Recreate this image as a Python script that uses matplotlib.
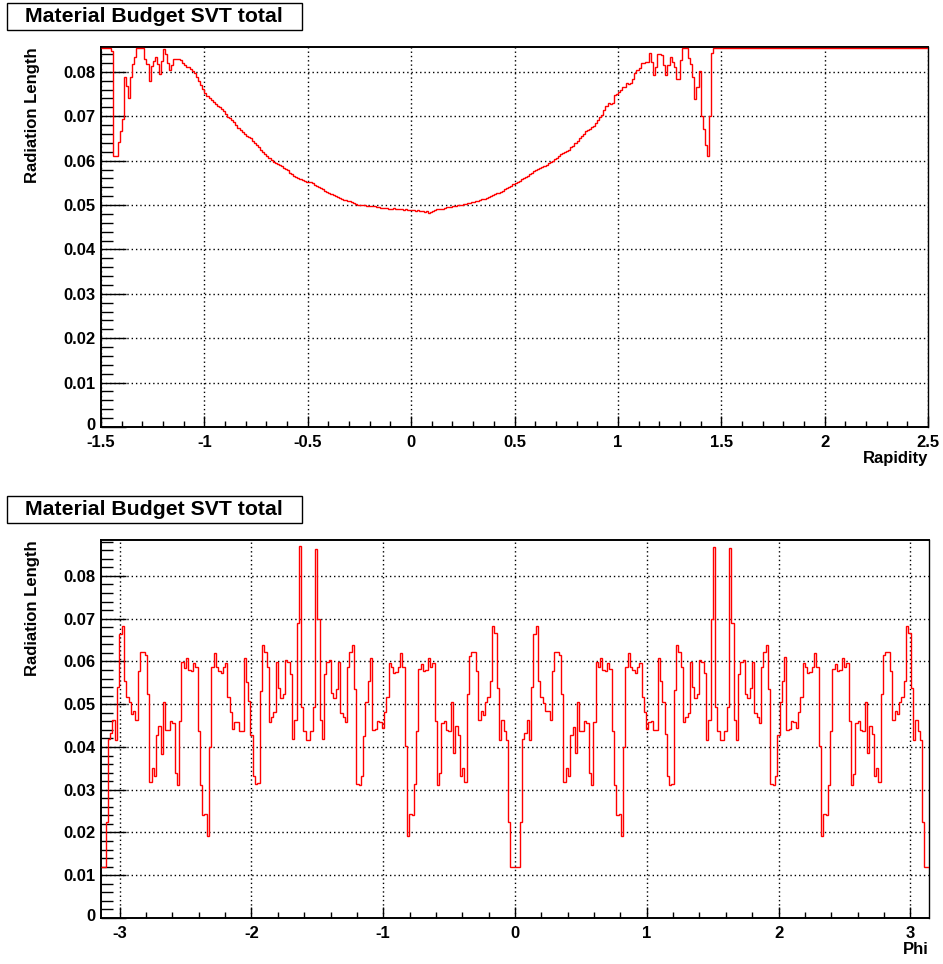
import numpy as np
import matplotlib
matplotlib.use("Agg")
import matplotlib.pyplot as plt
from matplotlib.patches import Rectangle
from matplotlib.transforms import ScaledTranslation
from matplotlib.ticker import FixedLocator, MultipleLocator, FixedFormatter, NullFormatter

# ---------------- data ----------------
OFF = 0.095  # bins above the frame (drawn at the frame top)

rap_range = (-1.5, 2.5)
rad_rap_1 = [OFF, OFF, OFF, OFF, OFF, 0.0847, 0.0611, 0.0611, 0.0641, 0.0667,
             0.0694, 0.0788, 0.0769, 0.0742, 0.0788, 0.0818, 0.0833, OFF, OFF, OFF,
             OFF, 0.0830, 0.0818, 0.0779, 0.0814, 0.0825, 0.0833, 0.0818, 0.0795, 0.0825,
             0.0851, 0.0840, 0.0820, 0.0804, 0.0815, 0.0830, 0.0830, 0.0830, 0.0826, 0.0820,
             0.0815, 0.0812, 0.0810, 0.0806, 0.0801, 0.0797, 0.0788, 0.0780, 0.0771, 0.0762]
rad_rap_2 = [0.0752, 0.0746, 0.0740, 0.0737, 0.0733, 0.0728, 0.0724, 0.0720, 0.0716, 0.0712,
             0.0705, 0.0699, 0.0695, 0.0691, 0.0686, 0.0680, 0.0674, 0.0670, 0.0664, 0.0660,
             0.0655, 0.0653, 0.0650, 0.0645, 0.0640, 0.0636, 0.0630, 0.0625, 0.0620, 0.0616,
             0.0610, 0.0606, 0.0602, 0.0598, 0.0595, 0.0593, 0.0590, 0.0587, 0.0584, 0.0581,
             0.0578, 0.0573, 0.0569, 0.0566, 0.0563, 0.0561, 0.0558, 0.0557, 0.0555, 0.0553,
             0.0552, 0.0551, 0.0549, 0.0546, 0.0544, 0.0541, 0.0538, 0.0535, 0.0532, 0.0530,
             0.0527, 0.0524, 0.0522, 0.0521, 0.0519, 0.0516, 0.0514, 0.0512, 0.0511, 0.0510,
             0.0509, 0.0507, 0.0505, 0.0503, 0.0501, 0.0500, 0.0499, 0.0499, 0.0498, 0.0497,
             0.0497, 0.0498, 0.0497, 0.0496, 0.0495, 0.0494, 0.0493, 0.0494, 0.0493, 0.0492,
             0.0492, 0.0493, 0.0492, 0.0491, 0.0490, 0.0491, 0.0489, 0.0490, 0.0489, 0.0488]
rad_rap_3 = [0.0488, 0.0489, 0.0487, 0.0488, 0.0486, 0.0487, 0.0485, 0.0486, 0.0482, 0.0484,
             0.0487, 0.0488, 0.0490, 0.0490, 0.0492, 0.0492, 0.0494, 0.0495, 0.0496, 0.0496,
             0.0497, 0.0498, 0.0499, 0.0500, 0.0501, 0.0502, 0.0503, 0.0504, 0.0505, 0.0506,
             0.0507, 0.0508, 0.0509, 0.0511, 0.0513, 0.0514, 0.0516, 0.0518, 0.0520, 0.0522,
             0.0524, 0.0526, 0.0528, 0.0530, 0.0532, 0.0535, 0.0538, 0.0541, 0.0544, 0.0547,
             0.0550, 0.0552, 0.0555, 0.0558, 0.0561, 0.0563, 0.0565, 0.0569, 0.0572, 0.0576,
             0.0580, 0.0582, 0.0584, 0.0586, 0.0588, 0.0591, 0.0594, 0.0596, 0.0599, 0.0603,
             0.0607, 0.0610, 0.0614, 0.0617, 0.0620, 0.0622, 0.0625, 0.0630, 0.0634, 0.0639,
             0.0644, 0.0650, 0.0655, 0.0661, 0.0666, 0.0669, 0.0672, 0.0675, 0.0678, 0.0685,
             0.0692, 0.0698]
rad_rap_4 = [0.0703, 0.0713, 0.0722, 0.0729, 0.0728, 0.0729, 0.0748, 0.0751, 0.0755, 0.0760,
             0.0766, 0.0766, 0.0774, 0.0773, 0.0775, 0.0783, 0.0797, 0.0805, 0.0808, 0.0821,
             0.0821, 0.0823, 0.0823, 0.0843, 0.0823, 0.0793, 0.0812, 0.0841, 0.0841, 0.0839,
             0.0816, 0.0793, 0.0816, 0.0833, 0.0823, 0.0812, 0.0783, 0.0785, 0.0827, OFF,
             OFF, OFF, 0.0831, 0.0818, 0.0789, 0.0738, 0.0767, 0.0803, 0.0701, 0.0671,
             0.0636, 0.0611, 0.0701, 0.0842]
rad_rap_5 = [OFF] * 104

phi_range = (-np.pi, np.pi)
rad_phi_1 = [0.0120, 0.0120, 0.0224, 0.0419, 0.0433, 0.0463, 0.0417, 0.0541, 0.0664, 0.0683,
             0.0555, 0.0516, 0.0504, 0.0477, 0.0483, 0.0463, 0.0578, 0.0621, 0.0621, 0.0615,
             0.0525, 0.0318, 0.0350, 0.0332, 0.0428, 0.0448, 0.0384, 0.0504, 0.0440, 0.0440,
             0.0460, 0.0455, 0.0339, 0.0310, 0.0461, 0.0598, 0.0584, 0.0609, 0.0581, 0.0578,
             0.0596, 0.0588, 0.0438, 0.0312, 0.0241, 0.0244, 0.0191, 0.0401, 0.0586, 0.0619,
             0.0586, 0.0578, 0.0572, 0.0586, 0.0596, 0.0518, 0.0481, 0.0442, 0.0458, 0.0459,
             0.0438, 0.0437, 0.0609, 0.0553, 0.0507, 0.0429, 0.0333, 0.0314, 0.0316, 0.0530,
             0.0638, 0.0623, 0.0588, 0.0458, 0.0469, 0.0481, 0.0598, 0.0538, 0.0514, 0.0524,
             0.0604, 0.0599, 0.0570, 0.0419, 0.0463, 0.0689, 0.0870, 0.0493, 0.0438, 0.0417]
rad_phi_2 = [0.0417, 0.0438, 0.0493, 0.0862, 0.0699, 0.0463, 0.0419, 0.0570, 0.0598, 0.0603,
             0.0526, 0.0514, 0.0535, 0.0598, 0.0479, 0.0469, 0.0458, 0.0588, 0.0623, 0.0638,
             0.0535, 0.0314, 0.0312, 0.0332, 0.0426, 0.0506, 0.0555, 0.0609, 0.0440, 0.0442,
             0.0460, 0.0458, 0.0444, 0.0481, 0.0518, 0.0596, 0.0586, 0.0573, 0.0576, 0.0586,
             0.0619, 0.0588, 0.0403, 0.0191, 0.0244, 0.0241, 0.0314, 0.0438, 0.0582, 0.0594,
             0.0578, 0.0581, 0.0608, 0.0586, 0.0596, 0.0460, 0.0310, 0.0339, 0.0455, 0.0460,
             0.0440, 0.0438, 0.0506, 0.0386, 0.0448, 0.0428, 0.0333, 0.0350, 0.0318, 0.0525,
             0.0613, 0.0621, 0.0623, 0.0578, 0.0464, 0.0483, 0.0475, 0.0504, 0.0516, 0.0555,
             0.0683, 0.0666, 0.0539, 0.0417, 0.0463, 0.0438, 0.0417, 0.0224, 0.0120, 0.0120]
rad_phi_3 = [0.0120, 0.0120, 0.0224, 0.0419, 0.0433, 0.0463, 0.0417, 0.0541, 0.0665, 0.0683,
             0.0555, 0.0518, 0.0503, 0.0483, 0.0485, 0.0463, 0.0578, 0.0623, 0.0623, 0.0615,
             0.0525, 0.0318, 0.0350, 0.0332, 0.0428, 0.0446, 0.0385, 0.0506, 0.0438, 0.0438,
             0.0460, 0.0455, 0.0339, 0.0310, 0.0459, 0.0598, 0.0586, 0.0609, 0.0580, 0.0578,
             0.0596, 0.0582, 0.0438, 0.0312, 0.0241, 0.0244, 0.0191, 0.0401, 0.0588, 0.0619,
             0.0588, 0.0581, 0.0573, 0.0588, 0.0596, 0.0518, 0.0481, 0.0442, 0.0458, 0.0460,
             0.0440, 0.0440, 0.0609, 0.0555, 0.0506, 0.0430, 0.0332, 0.0312, 0.0314, 0.0534,
             0.0638, 0.0623, 0.0588, 0.0458, 0.0469, 0.0479, 0.0599, 0.0540, 0.0514, 0.0525,
             0.0604, 0.0599, 0.0572, 0.0417, 0.0463, 0.0700, 0.0868, 0.0493, 0.0438, 0.0417]
rad_phi_4 = [0.0417, 0.0438, 0.0493, 0.0866, 0.0690, 0.0463, 0.0417, 0.0570, 0.0598, 0.0603,
             0.0525, 0.0514, 0.0538, 0.0598, 0.0479, 0.0469, 0.0456, 0.0588, 0.0623, 0.0638,
             0.0535, 0.0314, 0.0312, 0.0332, 0.0428, 0.0506, 0.0555, 0.0611, 0.0440, 0.0442,
             0.0460, 0.0458, 0.0444, 0.0481, 0.0518, 0.0596, 0.0586, 0.0572, 0.0576, 0.0586,
             0.0619, 0.0586, 0.0402, 0.0191, 0.0244, 0.0241, 0.0311, 0.0438, 0.0582, 0.0595,
             0.0578, 0.0580, 0.0609, 0.0588, 0.0596, 0.0460, 0.0310, 0.0337, 0.0456, 0.0460,
             0.0440, 0.0438, 0.0506, 0.0386, 0.0448, 0.0430, 0.0333, 0.0350, 0.0318, 0.0524,
             0.0615, 0.0621, 0.0623, 0.0578, 0.0464, 0.0483, 0.0477, 0.0504, 0.0516, 0.0555,
             0.0683, 0.0666, 0.0538, 0.0417, 0.0463, 0.0438, 0.0417, 0.0224, 0.0120, 0.0120]

title_text = "Material Budget SVT total"
ylabel_text = "Radiation Length"
xlabel_top = "Rapidity"
xlabel_bot = "Phi"

rap_ticks = [-1.5, -1, -0.5, 0, 0.5, 1, 1.5, 2, 2.5]
rap_ticklabels = ["-1.5", "-1", "-0.5", "0", "0.5", "1", "1.5", "2", "2.5"]
phi_ticks = [-3, -2, -1, 0, 1, 2, 3]
phi_ticklabels = ["-3", "-2", "-1", "0", "1", "2", "3"]
y_ticks = [0, 0.01, 0.02, 0.03, 0.04, 0.05, 0.06, 0.07, 0.08]
y_ticklabels = ["0", "0.01", "0.02", "0.03", "0.04", "0.05", "0.06", "0.07", "0.08"]
ymax_top = 0.0856
ymax_bot = 0.0884

# ---------------- figure ----------------
W, H = 943, 964
plt.rcParams['font.family'] = ['Liberation Sans', 'DejaVu Sans']
plt.rcParams['font.weight'] = 'bold'
fig = plt.figure(figsize=(W / 100, H / 100), dpi=100)
fig.patch.set_facecolor('white')


def px_axes(l, t, r, b):
    return fig.add_axes([l / W, 1 - b / H, (r - l) / W, (b - t) / H])


def style_axes(ax, xlo, xhi, ymax, xticks, xlabels, xminor, frame_w, frame_h):
    ax.set_xlim(xlo, xhi)
    ax.set_ylim(0, ymax)
    ax.xaxis.set_major_locator(FixedLocator(xticks))
    ax.xaxis.set_major_formatter(FixedFormatter(xlabels))
    ax.xaxis.set_minor_locator(MultipleLocator(xminor))
    ax.yaxis.set_major_locator(FixedLocator(y_ticks))
    ax.yaxis.set_major_formatter(FixedFormatter(y_ticklabels))
    ax.yaxis.set_minor_locator(MultipleLocator(0.002))
    ax.yaxis.set_minor_formatter(NullFormatter())
    ax.xaxis.set_minor_formatter(NullFormatter())
    ax.grid(True, which='major', color='black', linestyle=(0, (1, 2.1)), linewidth=1.0, zorder=0)
    ax.set_axisbelow(True)
    ylen = 0.03 * frame_w * 0.72
    xlen = 0.03 * frame_h * 0.72
    ax.tick_params(axis='y', which='major', direction='in', length=ylen, width=1.0,
                   labelsize=12, pad=4, left=True, right=False)
    ax.tick_params(axis='y', which='minor', direction='in', length=ylen / 2, width=1.0,
                   left=True, right=False)
    ax.tick_params(axis='x', which='major', direction='in', length=xlen, width=1.0,
                   labelsize=12, pad=6, bottom=True, top=False)
    ax.tick_params(axis='x', which='minor', direction='in', length=xlen / 2, width=1.0,
                   bottom=True, top=False)
    for lab in ax.get_xticklabels() + ax.get_yticklabels():
        lab.set_fontweight('bold')
    for side in ['left', 'bottom', 'top']:
        ax.spines[side].set_linewidth(1.4)
    ax.spines['right'].set_linewidth(1.0)


# top panel
ax1 = px_axes(101, 47, 928, 427)
rad_rap = np.array(rad_rap_1 + rad_rap_2 + rad_rap_3 + rad_rap_4 + rad_rap_5)
rap_edges = np.linspace(rap_range[0], rap_range[1], len(rad_rap) + 1)
ax1.stairs(np.minimum(rad_rap, ymax_top * 0.998), rap_edges, baseline=None,
           color='#ff0000', linewidth=1.0, zorder=3)
style_axes(ax1, rap_range[0], rap_range[1], ymax_top, rap_ticks, rap_ticklabels, 0.1, 827, 380)

# bottom panel
ax2 = px_axes(101, 540, 929, 918)
rad_phi = np.array(rad_phi_1 + rad_phi_2 + rad_phi_3 + rad_phi_4)
phi_edges = np.linspace(phi_range[0], phi_range[1], len(rad_phi) + 1)
ax2.stairs(np.minimum(rad_phi, ymax_bot * 0.998), phi_edges, baseline=None,
           color='#ff0000', linewidth=1.0, zorder=3)
style_axes(ax2, phi_range[0], phi_range[1], ymax_bot, phi_ticks, phi_ticklabels, 0.2, 828, 378)

# the "0" label of each y axis is nudged up a few pixels so it clears the x labels
for ax in (ax1, ax2):
    lab0 = ax.get_yticklabels()[0]
    lab0.set_transform(lab0.get_transform() + ScaledTranslation(0, 3 / 100, fig.dpi_scale_trans))

# axis titles
fig.text(928 / W, 1 - 458 / H, xlabel_top, ha='right', va='center', fontsize=12, fontweight='bold')
fig.text(929 / W, 1 - 950 / H, xlabel_bot, ha='right', va='center', fontsize=12, fontweight='bold')
fig.text(33 / W, 1 - 47 / H, ylabel_text, rotation=90, ha='center', va='top', fontsize=12, fontweight='bold')
fig.text(33 / W, 1 - 540 / H, ylabel_text, rotation=90, ha='center', va='top', fontsize=12, fontweight='bold')

# title boxes
for top in (3, 496):
    fig.patches.append(Rectangle((7 / W, 1 - (top + 27) / H), 295 / W, 27 / H,
                                 transform=fig.transFigure, facecolor='white',
                                 edgecolor='black', linewidth=1.0))
    fig.text(154 / W, 1 - (top + 13.5) / H, title_text, ha='center', va='center',
             fontsize=15.3, fontweight='bold')

fig.savefig('out.png', dpi=100, facecolor='white')
